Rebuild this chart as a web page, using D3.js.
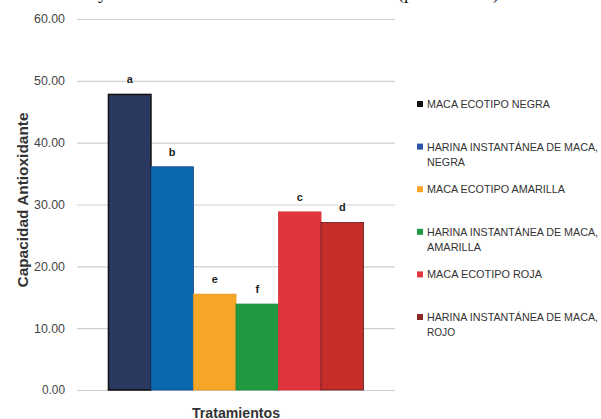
<!DOCTYPE html>
<html><head><meta charset="utf-8">
<script src="https://cdn.jsdelivr.net/npm/d3@7"></script>
<style>body{margin:0;background:#fff}svg{display:block}</style>
</head><body>
<script>
const categories = [
  "MACA ECOTIPO NEGRA",
  "HARINA INSTANTÁNEA DE MACA, NEGRA",
  "MACA ECOTIPO AMARILLA",
  "HARINA INSTANTÁNEA DE MACA, AMARILLA",
  "MACA ECOTIPO ROJA",
  "HARINA INSTANTÁNEA DE MACA, ROJO"
];
const values = [47.8, 36.1, 15.5, 13.9, 28.8, 27.1];
const letters = ["a", "b", "e", "f", "c", "d"];
const yTicks = [0, 10, 20, 30, 40, 50, 60];
const colors = ["#2b3961", "#0b69b0", "#f5a527", "#1f9a40", "#e1353d", "#c62e2b"];
const strokes = ["#111111", "#1f3f8a", "#e8981c", "#1b8a38", "#d9303a", "#5a1a16"];
const swatch = ["#111111", "#2a55a8", "#f5a527", "#1f9a40", "#e1353d", "#8a2a26"];

const W = 601, H = 419;
const svg = d3.select("body").append("svg").attr("width", W).attr("height", H);

// cropped caption fragments at top (only descenders visible, as in the reference)
const cap = svg.append("g").attr("font-family", "'Liberation Serif', serif").attr("font-size", 18).attr("fill", "#111");
cap.append("text").attr("x", 98).attr("y", -1).text("y");
cap.append("text").attr("x", 398).attr("y", -1).text("(p");
cap.append("text").attr("x", 493).attr("y", -1).text(")");

const x = d3.scaleBand().domain(categories).range([77, 395]).paddingInner(0).paddingOuter(0.74);
const y = d3.scaleLinear().domain([0, 60]).range([390, 19]);

// gridlines + labels
const yAxis = d3.axisLeft(y).tickValues(yTicks).tickFormat(d3.format(".2f"))
  .tickSize(-(395 - 77)).tickPadding(12);
const ga = svg.append("g").attr("transform", "translate(77,0)").call(yAxis);
ga.select(".domain").remove();
ga.selectAll(".tick line").attr("stroke", "#cfcfcf").attr("stroke-width", 1.2);
ga.selectAll(".tick text").attr("font-family", "'Liberation Sans Narrow','Liberation Sans',Arial,sans-serif")
  .attr("font-size", 12).attr("fill", "#444").attr("textLength", function(d){ return d === 0 ? 23 : 31; })
  .attr("lengthAdjust", "spacingAndGlyphs");

// bars
svg.append("g").selectAll("rect").data(categories).join("rect")
  .attr("x", d => x(d))
  .attr("width", x.bandwidth())
  .attr("y", (d, i) => y(values[i]))
  .attr("height", (d, i) => y(0) - y(values[i]))
  .attr("fill", (d, i) => colors[i])
  .attr("stroke", (d, i) => strokes[i])
  .attr("stroke-width", (d, i) => i === 0 ? 1.5 : 0.8);

// significance letters with white background
const lg = svg.append("g");
categories.forEach((c, i) => {
  const cx = x(c) + x.bandwidth() / 2;
  const by = y(values[i]) - 11;
  lg.append("rect").attr("x", cx - 4).attr("y", by - 9).attr("width", 8).attr("height", 11).attr("fill", "#fff");
  lg.append("text").attr("x", cx).attr("y", by).attr("text-anchor", "middle")
    .attr("font-family", "'Liberation Sans',Arial,sans-serif").attr("font-weight", "bold")
    .attr("font-size", 11).attr("fill", "#222").text(letters[i]);
});

// axis titles
svg.append("text").attr("transform", "translate(28,200) rotate(-90)").attr("text-anchor", "middle")
  .attr("font-family", "'Liberation Sans',Arial,sans-serif").attr("font-weight", "bold")
  .attr("font-size", 14).attr("fill", "#333").attr("textLength", 175).attr("lengthAdjust", "spacingAndGlyphs")
  .text("Capacidad Antioxidante");
svg.append("text").attr("x", 236).attr("y", 418).attr("text-anchor", "middle")
  .attr("font-family", "'Liberation Sans',Arial,sans-serif").attr("font-weight", "bold")
  .attr("font-size", 14).attr("fill", "#333").attr("textLength", 88).attr("lengthAdjust", "spacingAndGlyphs")
  .text("Tratamientos");

// legend
const legendY = d3.scalePoint().domain(categories).range([108, 321]);
const lineW = {"MACA ECOTIPO NEGRA":123, "MACA ECOTIPO AMARILLA":138, "MACA ECOTIPO ROJA":115,
  "HARINA INSTANTÁNEA DE MACA,":171, "NEGRA":38, "AMARILLA":54, "ROJO":28};
const leg = svg.append("g").attr("font-family", "'Liberation Sans Narrow','Liberation Sans',Arial,sans-serif")
  .attr("font-size", 11).attr("fill", "#333");
categories.forEach((c, i) => {
  const by = legendY(c);
  leg.append("rect").attr("x", 417).attr("y", by - 7).attr("width", 6).attr("height", 6).attr("fill", swatch[i]);
  const parts = c.includes(", ") ? [c.split(", ")[0] + ",", c.split(", ")[1]] : [c];
  parts.forEach((p, j) => {
    leg.append("text").attr("x", 427).attr("y", by + j * 15)
      .attr("textLength", lineW[p]).attr("lengthAdjust", "spacingAndGlyphs").text(p);
  });
});
</script>
</body></html>
